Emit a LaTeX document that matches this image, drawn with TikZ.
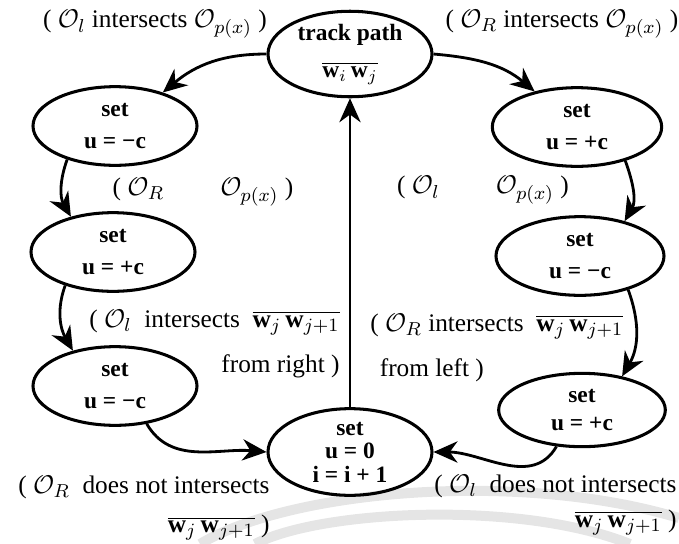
\documentclass[tikz,border=0pt]{standalone}
\usepackage{fontspec}
\setmainfont{Liberation Serif}
\usepackage{xcolor}
\usepackage{tikz}
\usetikzlibrary{arrows.meta,shapes.geometric}

\begin{document}
\begin{tikzpicture}[
  x=0.15mm, y=-0.15mm,
  state/.style={ellipse, draw, line width=1.3pt, inner sep=0pt, minimum width=24.6mm, minimum height=11.8mm, align=center, font=\bfseries},
  cond/.style={inner sep=0pt, font=\fontsize{10.8}{13}\selectfont},
  arrow/.style={-{Stealth[length=3.6mm, width=3.2mm]}, line width=1.2pt},
  wmark/.style={gray!20, line width=1.5mm}
]
\useasboundingbox (0,0) rectangle (679,544);
% faint arcs in the background
\draw[wmark] (200,544) .. controls (290,490) and (520,470) .. (679,518);
\draw[wmark] (255,544) .. controls (320,510) and (520,500) .. (630,544);

\node[state] (track) at (350,54) {track path\\[4pt] $\overline{\mathbf{w}_i\,\mathbf{w}_j}$};
\node[state] (lset1) at (115,126) {set\\[2pt] u = −c};
\node[state] (lset2) at (113,252) {set\\[2pt] u = +c};
\node[state] (lset3) at (115,386) {set\\[2pt] u = −c};
\node[state, minimum width=25.4mm] (rset1) at (577,127) {set\\[2pt] u = +c};
\node[state, minimum width=25.2mm] (rset2) at (580,256) {set\\[2pt] u = −c};
\node[state, minimum width=25mm, minimum height=11mm] (rset3) at (582,410) {set\\[0pt] u = +c};
\node[state, minimum height=13mm] (reset) at (350,452) {set\\[-2pt] u = 0\\[-2pt] i = i + 1};

\node[cond] (lcond1) at (155,24) {( $\mathcal{O}_l$ intersects $\mathcal{O}_{p(x)}$ )};
\node[cond] (rcond1) at (562,24) {( $\mathcal{O}_R$ intersects $\mathcal{O}_{p(x)}$ )};
\node[cond] (lcond2) at (203,192) {( $\mathcal{O}_R$\hspace{24pt}$\mathcal{O}_{p(x)}$ )};
\node[cond] (rcond2) at (483,190) {( $\mathcal{O}_l$\hspace{24pt}$\mathcal{O}_{p(x)}$ )};
\node[cond, align=right, anchor=east] (lcond3) at (340,344) {( $\mathcal{O}_l$ \ intersects \ $\overline{\mathbf{w}_j\,\mathbf{w}_{j+1}}$\\[6pt] from right )};
\node[cond, align=left, anchor=west] (rcond3) at (370,348) {( $\mathcal{O}_R$ intersects \ $\overline{\mathbf{w}_j\,\mathbf{w}_{j+1}}$\\[6pt] \hspace{4pt}from left )};
\node[cond, align=right, anchor=east] (lcond4) at (270,508) {( $\mathcal{O}_R$ \ does not intersects\\[4pt] $\overline{\mathbf{w}_j\,\mathbf{w}_{j+1}}$ )};
\node[cond, align=right, anchor=east] (rcond4) at (677,505) {( $\mathcal{O}_l$ \ does not intersects\\[2pt] $\overline{\mathbf{w}_j\,\mathbf{w}_{j+1}}$ )};

\draw[arrow] (track.west) to[out=180, in=40] (lset1.35);
\draw[arrow] (track.east) to[out=-5, in=140] (rset1.140);
\draw[arrow] (lset1.215) to[out=250, in=120] (lset2.140);
\draw[arrow] (lset2.215) to[out=250, in=120] (lset3.140);
\draw[arrow] (rset1.325) to[out=-70, in=60] (rset2.38);
\draw[arrow] (rset2.325) to[out=-70, in=60] (rset3.40);
\draw[arrow] (lset3.310) to[out=-60, in=175] (reset.west);
\draw[arrow] (rset3.235) to[out=-120, in=0] (reset.east);
\draw[arrow] (reset.north) -- (track.south);
\end{tikzpicture}
\end{document}
